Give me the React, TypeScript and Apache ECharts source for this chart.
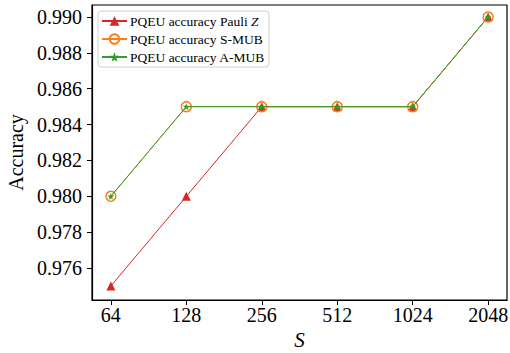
import React, { useEffect, useRef } from "react";
import * as echarts from "echarts";

const categories = ["64", "128", "256", "512", "1024", "2048"];
const pauliZ = [0.975, 0.98, 0.985, 0.985, 0.985, 0.99];
const sMUB = [0.98, 0.985, 0.985, 0.985, 0.985, 0.99];
const aMUB = [0.98, 0.985, 0.985, 0.985, 0.985, 0.99];
const yTicks = [0.976, 0.978, 0.98, 0.982, 0.984, 0.986, 0.988, 0.99];

const FONT = "'Liberation Serif', 'Times New Roman', serif";

export default function App() {
  const ref = useRef<HTMLDivElement>(null);
  useEffect(() => {
    if (!ref.current) return;
    const chart = echarts.init(ref.current, null, { renderer: "svg" });
    const toPts = (arr: number[]) => arr.map((v, i) => [i, v]);
    const idx = categories.map((_, i) => i);
    const labelStyle = { fontFamily: FONT, fontSize: 20, color: "#000" };
    chart.setOption({
      animation: false,
      textStyle: { fontFamily: FONT },
      grid: {
        left: 92,
        right: 3,
        top: 5,
        bottom: 53,
        containLabel: false,
        outerBoundsMode: "none",
        show: true,
        borderColor: "#000",
        borderWidth: 1.2,
        backgroundColor: "transparent",
      },
      legend: {
        orient: "vertical",
        left: 98,
        top: 11,
        itemWidth: 25,
        itemHeight: 12,
        itemGap: 4,
        padding: [3, 4, 3, 3],
        borderColor: "#d0d0d0",
        borderWidth: 1,
        borderRadius: 3,
        backgroundColor: "rgba(255,255,255,0.8)",
        textStyle: {
          fontFamily: FONT,
          fontSize: 13.5,
          color: "#000",
          padding: [0, 0, 0, -2],
          rich: {
            a: { fontFamily: FONT, fontSize: 13.5, color: "#000" },
            i: { fontFamily: FONT, fontSize: 13.5, color: "#000", fontStyle: "italic" },
          },
        },
        formatter: (name: string) =>
          name === "PQEU accuracy Pauli Z" ? "{a|PQEU accuracy Pauli }{i|Z}" : "{a|" + name + "}",
        data: ["PQEU accuracy Pauli Z", "PQEU accuracy S-MUB", "PQEU accuracy A-MUB"],
      },
      xAxis: {
        type: "value",
        min: -0.25,
        max: 5.25,
        name: "S",
        nameLocation: "middle",
        nameGap: 29,
        nameTextStyle: { fontFamily: FONT, fontSize: 21, fontStyle: "italic", color: "#000" },
        splitLine: { show: false },
        axisLine: { show: true, onZero: false, lineStyle: { color: "#000", width: 1.2 } },
        axisTick: { show: true, length: 5, lineStyle: { color: "#000", width: 1 }, customValues: idx },
        axisLabel: {
          ...labelStyle,
          margin: 5,
          customValues: idx,
          formatter: (v: number) => categories[Math.round(v)] ?? "",
        },
      },
      yAxis: {
        type: "value",
        min: 0.97422,
        max: 0.99067,
        name: "Accuracy",
        nameLocation: "middle",
        nameGap: 64,
        nameTextStyle: { fontFamily: FONT, fontSize: 20, color: "#000" },
        splitLine: { show: false },
        axisLine: { show: true, onZero: false, lineStyle: { color: "#000", width: 1.2 } },
        axisTick: { show: true, length: 5, lineStyle: { color: "#000", width: 1 }, customValues: yTicks },
        axisLabel: {
          ...labelStyle,
          margin: 10,
          customValues: yTicks,
          formatter: (v: number) => v.toFixed(3),
        },
      },
      series: [
        {
          name: "PQEU accuracy Pauli Z",
          type: "line",
          data: toPts(pauliZ),
          symbol: "triangle",
          symbolSize: 9,
          lineStyle: { color: "#d62728", width: 1 },
          itemStyle: { color: "#d62728", borderWidth: 0 },
          z: 2,
        },
        {
          name: "PQEU accuracy S-MUB",
          type: "line",
          data: toPts(sMUB),
          symbol: "circle",
          symbolSize: 10,
          showAllSymbol: true,
          lineStyle: { color: "#ff7f0e", width: 1 },
          itemStyle: { color: "rgba(0,0,0,0)", borderColor: "#ff7f0e", borderWidth: 1.5 },
          z: 3,
        },
        {
          name: "PQEU accuracy A-MUB",
          type: "line",
          data: toPts(aMUB),
          symbol: "path://M0,-10 L2.35,-3.24 L9.51,-3.09 L3.8,1.24 L5.88,8.09 L0,4 L-5.88,8.09 L-3.8,1.24 L-9.51,-3.09 L-2.35,-3.24 Z",
          symbolSize: 7,
          lineStyle: { color: "#2ca02c", width: 1 },
          itemStyle: { color: "#2ca02c", borderWidth: 0 },
          z: 4,
        },
      ],
    });
    return () => chart.dispose();
  }, []);
  return <div ref={ref} style={{ width: 510, height: 353, position: "absolute", left: 0, top: 0 }} />;
}
